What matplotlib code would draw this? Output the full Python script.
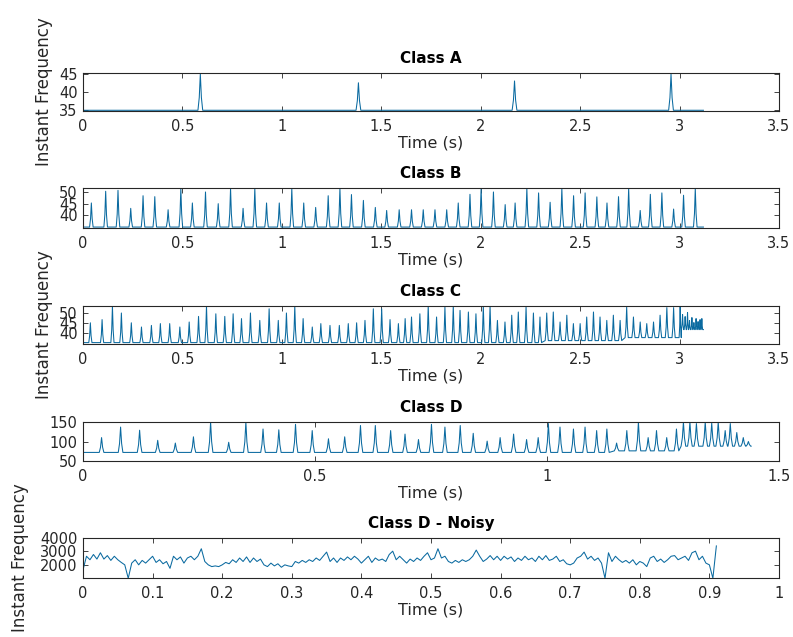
import numpy as np
import matplotlib
matplotlib.use("Agg")
import matplotlib.pyplot as plt
from matplotlib.ticker import FuncFormatter

plt.rcParams['font.family'] = ['DejaVu Sans']

# ---------------- data ----------------
titles = ["Class A", "Class B", "Class C", "Class D", "Class D - Noisy"]
x_label = "Time (s)"
y_label = "Instant Frequency"

# Class A: spike peaks (time s, value) on a 35 baseline
a_peak_t = [0.590, 1.385, 2.170, 2.957]
a_peak_v = [45.0, 42.6, 43.1, 45.0]
a_trough = [35.0, 35.0, 35.0, 35.0]
a_end_t = 3.12

# Class B
b_peak_t = [0.042, 0.114, 0.176, 0.240, 0.302, 0.361, 0.428, 0.492, 0.550, 0.616,
            0.680, 0.742, 0.805, 0.864, 0.923, 0.987, 1.050, 1.110, 1.170, 1.233,
            1.292, 1.350, 1.410, 1.470, 1.527, 1.590, 1.652, 1.711, 1.770, 1.829,
            1.887, 1.946, 2.002, 2.064, 2.123, 2.173, 2.232, 2.291, 2.349, 2.408,
            2.467, 2.525, 2.584, 2.635, 2.693, 2.744, 2.802, 2.853, 2.911, 2.970,
            3.020, 3.079]
b_peak_v = [45.3, 50.3, 50.7, 43.0, 48.4, 48.0, 42.4, 51.5, 45.3, 50.0,
            45.0, 51.5, 43.0, 51.5, 45.3, 45.3, 51.5, 45.3, 43.4, 48.4,
            51.5, 48.9, 46.4, 43.4, 42.1, 42.4, 42.4, 42.4, 42.4, 42.4,
            45.3, 49.0, 51.5, 50.0, 44.6, 45.3, 51.5, 49.6, 45.6, 51.5,
            48.4, 49.6, 47.9, 45.3, 48.0, 51.5, 42.1, 49.0, 49.6, 42.7,
            48.6, 51.5]
b_trough = [35.0] * len(b_peak_t)
b_end_t = 3.12

# Class C
c_peak_t = [0.037, 0.096, 0.148, 0.193, 0.243, 0.294, 0.344, 0.389, 0.436, 0.487,
            0.534, 0.581, 0.621, 0.668, 0.713, 0.755, 0.797, 0.842, 0.889, 0.936,
            0.982, 1.023, 1.065, 1.107, 1.153, 1.196, 1.242, 1.289, 1.334, 1.376,
            1.418, 1.460, 1.502, 1.544, 1.586, 1.620, 1.652, 1.694, 1.736, 1.778,
            1.820, 1.862, 1.896, 1.938, 1.976, 2.013, 2.047, 2.084, 2.122, 2.156,
            2.189, 2.228, 2.265, 2.298, 2.332, 2.365, 2.399, 2.433, 2.466, 2.500,
            2.533, 2.567, 2.600, 2.634, 2.667, 2.701, 2.734, 2.768, 2.802, 2.835,
            2.869, 2.902, 2.936, 2.970, 3.003, 3.015, 3.028, 3.040, 3.050, 3.062,
            3.072, 3.083, 3.093, 3.103, 3.112]
c_peak_v = [44.9, 46.5, 53.3, 49.8, 44.9, 42.8, 43.6, 44.5, 44.5, 42.8,
            45.3, 48.1, 53.3, 49.4, 48.1, 49.4, 47.0, 49.8, 46.1, 51.9,
            46.1, 49.8, 53.3, 47.0, 42.8, 44.5, 43.6, 43.6, 44.5, 44.9,
            46.1, 51.9, 51.9, 46.5, 44.5, 47.0, 47.8, 49.4, 53.3, 47.8,
            52.7, 53.3, 51.1, 50.3, 49.4, 53.3, 53.3, 46.1, 45.3, 48.7,
            50.3, 52.7, 49.8, 47.8, 49.8, 50.3, 45.3, 48.7, 44.5, 44.5,
            47.8, 50.3, 47.8, 46.1, 48.7, 46.1, 52.7, 47.8, 45.3, 44.5,
            45.3, 48.7, 52.5, 52.5, 53.3, 49.0, 48.0, 50.0, 46.0, 47.5,
            45.0, 47.0, 45.5, 46.5, 47.0]
c_trough = ([35.0] * 54 + [36.0] * 12 + [37.5] * 9 + [41.5] * 10)
c_end_t = 3.12

# Class D
d_peak_t = [0.040, 0.081, 0.122, 0.161, 0.199, 0.238, 0.275, 0.314, 0.351, 0.388,
            0.422, 0.458, 0.494, 0.529, 0.564, 0.598, 0.630, 0.663, 0.694, 0.723,
            0.751, 0.780, 0.813, 0.841, 0.871, 0.899, 0.928, 0.956, 0.981, 1.003,
            1.028, 1.057, 1.082, 1.107, 1.129, 1.150, 1.172, 1.197, 1.218, 1.236,
            1.258, 1.279, 1.294, 1.308, 1.322, 1.341, 1.355, 1.369, 1.384, 1.395,
            1.409, 1.423, 1.434]
d_peak_v = [110, 137, 129, 103, 96, 112, 150, 98, 150, 132,
            130, 144, 128, 107, 112, 141, 141, 128, 119, 105,
            144, 137, 141, 121, 101, 110, 119, 105, 110, 146,
            137, 132, 137, 128, 132, 96, 128, 150, 110, 128,
            110, 132, 150, 150, 146, 150, 147, 150, 128, 146,
            123, 110, 100]
d_trough = ([72] * 35 + [76] * 7 + [88] * 11)
d_end_t = 1.44

# Class D - Noisy: samples every 5 ms from 0 to 0.91 s
noisy_dt = 0.005
noisy_v = [1620, 2640, 2380, 2770, 2430, 2900, 2430, 2690, 2330, 2640,
           2380, 2180, 2000, 1000, 2130, 2380, 2000, 2330, 2130, 2380,
           2640, 2180, 2380, 2080, 2250, 1740, 2640, 2380, 2590, 2130,
           2510, 2640, 2380, 2640, 3200, 2250, 2000, 1870, 1920, 1870,
           2000, 2180, 2080, 2380, 2180, 2510, 2250, 2590, 2180, 2510,
           2250, 2430, 2000, 1870, 2130, 1920, 2080, 1820, 2000, 1920,
           1870, 2250, 2130, 2330, 2180, 2380, 2250, 2510, 2330, 2640,
           2950, 2250, 2510, 2180, 2510, 2330, 2590, 2380, 2640, 2430,
           2130, 2380, 2640, 2180, 2510, 2330, 2430, 2250, 2770, 3020,
           2380, 2640, 2380, 2130, 2430, 2250, 2510, 2330, 2640, 2900,
           2380, 2510, 3200, 2510, 2640, 2250, 2130, 2330, 2180, 2380,
           2250, 2380, 2640, 3100, 2640, 2250, 2430, 2690, 2380, 2640,
           2330, 2640, 2430, 2590, 2250, 2510, 2330, 2640, 2380, 2510,
           2250, 2640, 2380, 2690, 2330, 2430, 2640, 2250, 2380, 2080,
           2000, 2130, 2510, 2640, 2950, 2430, 2640, 2330, 2510, 2130,
           1000, 2900, 2250, 2640, 2380, 2180, 2330, 2130, 2380, 2000,
           2250, 2130, 1870, 2510, 2640, 2250, 2430, 2180, 2380, 2640,
           2690, 2380, 2510, 2640, 2330, 2900, 3020, 2380, 2640, 2130,
           2000, 1000, 3410]

# axis settings
xlims = [(0, 3.5), (0, 3.5), (0, 3.5), (0, 1.5), (0, 1)]
xticks = [np.arange(0, 3.51, 0.5)] * 3 + [np.arange(0, 1.51, 0.5), np.arange(0, 1.01, 0.1)]
ylims = [(34.8, 45.3), (34.6, 51.7), (34.3, 53.3), (50, 150), (1020, 4000)]
yticks = [[35, 40, 45], [40, 45, 50], [40, 45, 50], [50, 100, 150], [2000, 3000, 4000]]
show_ylabel = [True, False, True, False, True]
ylabel_x = [-0.056, None, -0.056, None, -0.091]


def spike_series(peak_t, peak_v, trough, t_end, w):
    xs = [0.0]
    ys = [trough[0]]
    n = len(peak_t)
    for i in range(n):
        gaps = []
        if i > 0:
            gaps.append(peak_t[i] - peak_t[i - 1])
        if i < n - 1:
            gaps.append(peak_t[i + 1] - peak_t[i])
        hw = min(w, 0.45 * min(gaps)) if gaps else w
        t, v, b = peak_t[i], peak_v[i], trough[i]
        sh = b + 0.35 * (v - b)
        xs += [t - hw, t - 0.45 * hw, t, t + 0.45 * hw, t + hw]
        ys += [b, sh, v, sh, b]
    xs.append(t_end)
    ys.append(trough[-1])
    return np.array(xs), np.array(ys)


series = [
    spike_series(a_peak_t, a_peak_v, a_trough, a_end_t, 0.012),
    spike_series(b_peak_t, b_peak_v, b_trough, b_end_t, 0.009),
    spike_series(c_peak_t, c_peak_v, c_trough, c_end_t, 0.008),
    spike_series(d_peak_t, d_peak_v, d_trough, d_end_t, 0.005),
    (np.arange(len(noisy_v)) * noisy_dt, np.array(noisy_v, dtype=float)),
]

# ---------------- figure ----------------
W, H = 793, 637
fig = plt.figure(figsize=(W / 100, H / 100), dpi=100)
fig.patch.set_facecolor('white')

# axes boxes in pixels: (top, bottom)
boxes = [(73, 111), (188, 228), (306, 344), (422, 461), (538, 578)]
left_px, right_px = 83, 779

line_color = '#0a6aa0'
text_color = '#262626'
fmt = FuncFormatter(lambda v, p: f'{v:g}')

for i in range(5):
    top, bot = boxes[i]
    ax = fig.add_axes([left_px / W, 1 - bot / H, (right_px - left_px) / W, (bot - top) / H])
    x, y = series[i]
    ax.plot(x, y, color=line_color, lw=0.75)
    ax.set_xlim(*xlims[i])
    ax.set_ylim(*ylims[i])
    ax.set_xticks(xticks[i])
    ax.set_yticks(yticks[i])
    ax.xaxis.set_major_formatter(fmt)
    ax.yaxis.set_major_formatter(fmt)
    ax.tick_params(direction='in', length=3.5, width=0.6, top=True, right=True,
                   labelsize=10.5, colors=text_color)
    ax.tick_params(axis='x', pad=6)
    ax.tick_params(axis='y', pad=4)
    for s in ax.spines.values():
        s.set_linewidth(0.8)
        s.set_color(text_color)
    ax.set_title(titles[i], fontsize=11, fontweight='bold', pad=7, color='black')
    ax.set_xlabel(x_label, fontsize=11.5, labelpad=1, color=text_color)
    if show_ylabel[i]:
        ax.set_ylabel(y_label, fontsize=12, color=text_color, va='center')
        ax.yaxis.set_label_coords(ylabel_x[i], 0.5)

fig.savefig('out.png', dpi=100, facecolor='white')
